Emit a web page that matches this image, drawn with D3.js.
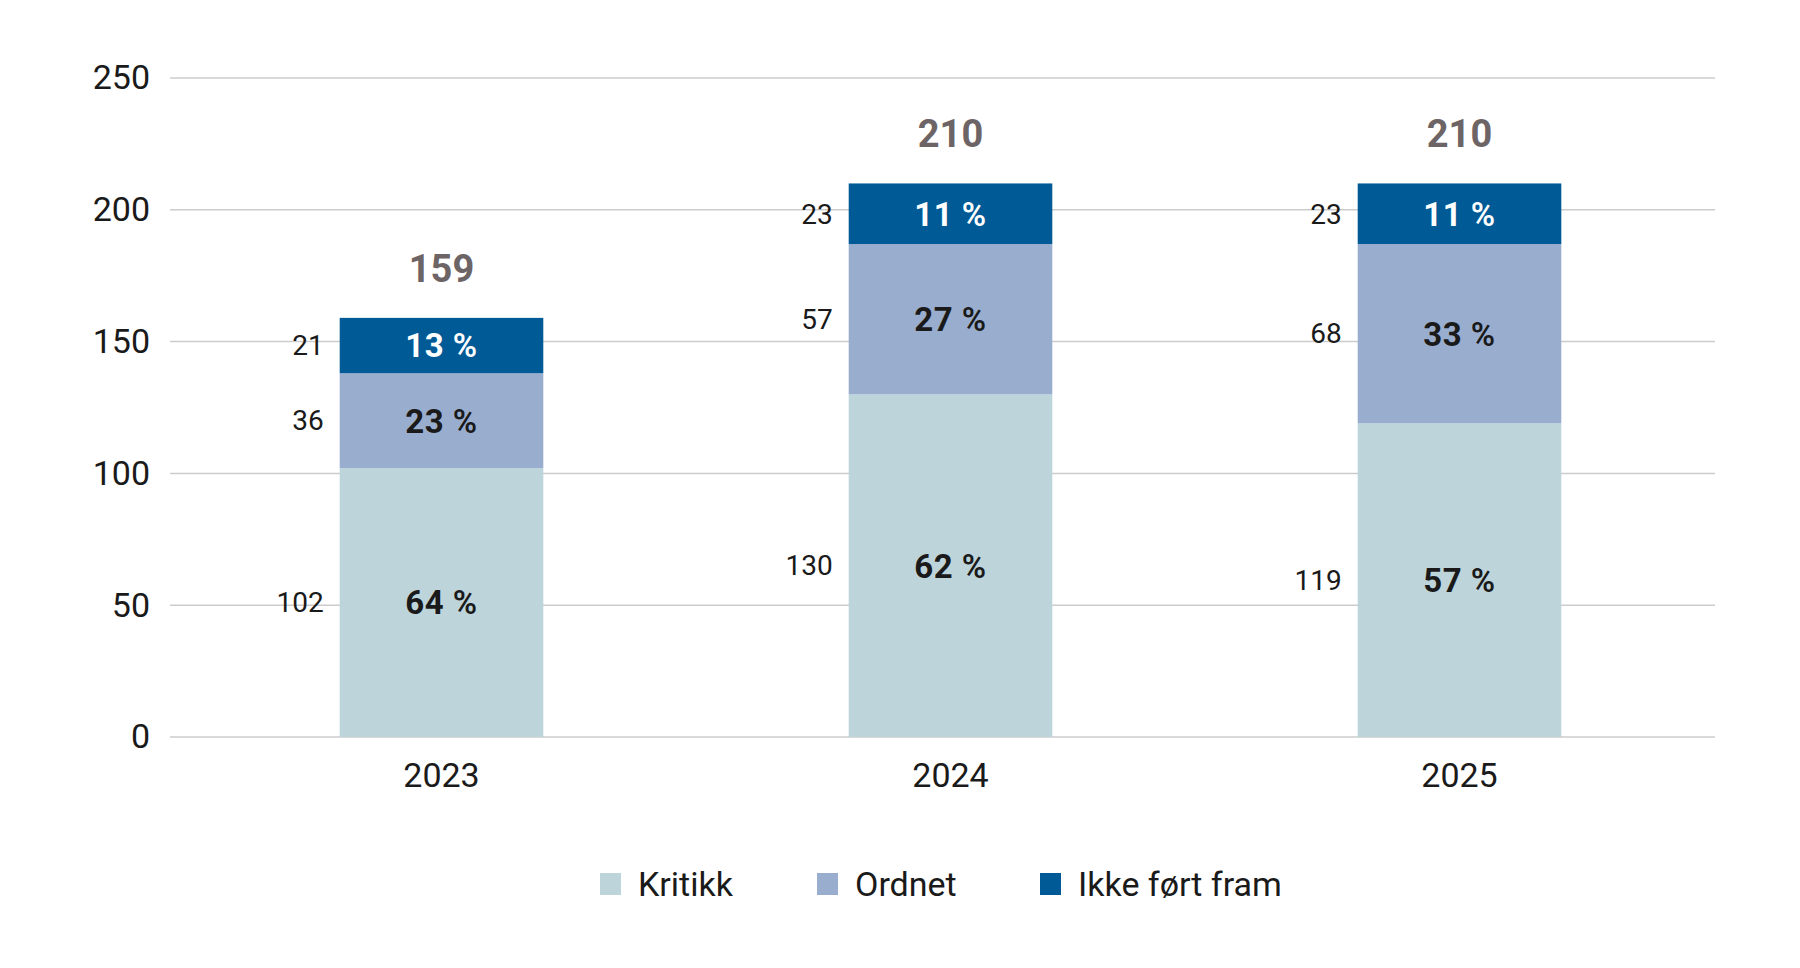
<!DOCTYPE html>
<html lang="no">
<head>
<meta charset="UTF-8">
<title>Saker etter utfall</title>
<script src="https://cdn.jsdelivr.net/npm/d3@7"></script>
<style>
  body { margin: 0; background: #fff; }
  text { font-family: Roboto, "Noto Sans", sans-serif; }
</style>
</head>
<body>
<script>
    var width = 1800;
    var height = 968;

    // data
    var years = ["2023", "2024", "2025"];
    var series = ["Kritikk", "Ordnet", "Ikke ført fram"];
    var kritikk = [102, 130, 119];
    var ordnet = [36, 57, 68];
    var ikkeFortFram = [21, 23, 23];
    var shares = [[64, 62, 57], [23, 27, 33], [13, 11, 11]];
    var yTicks = [0, 50, 100, 150, 200, 250];
    var colors = ["#bdd5da", "#99aecf", "#005a96"];

    var rows = years.map(function (y, i) {
        return {year: y, Kritikk: kritikk[i], Ordnet: ordnet[i], "Ikke ført fram": ikkeFortFram[i]};
    });
    var stacked = d3.stack().keys(series)(rows);

    var xScale = d3.scaleBand()
        .domain(years)
        .range([187, 1714])
        .paddingInner(0.6)
        .paddingOuter(0.3);

    var yScale = d3.scaleLinear()
        .domain([0, 250])
        .range([737, 78]);

    var svg = d3.select("body").append("svg")
        .attr("width", width)
        .attr("height", height);

    // grid
    svg.append("g").selectAll("line")
        .data(yTicks)
        .enter().append("line")
        .attr("x1", 170)
        .attr("x2", 1715)
        .attr("y1", function (d) { return yScale(d); })
        .attr("y2", function (d) { return yScale(d); })
        .attr("stroke", "#cccccc")
        .attr("stroke-width", 1.5);

    var yAxis = d3.axisLeft(yScale).tickValues(yTicks).tickSize(0).tickPadding(0);
    var yGroup = svg.append("g")
        .attr("transform", "translate(150,0)")
        .call(yAxis);
    yGroup.select(".domain").remove();
    yGroup.selectAll("text")
        .attr("font-size", 34)
        .attr("fill", "#1a1a1a")
        .attr("font-family", "Roboto");

    var xAxis = d3.axisBottom(xScale).tickSize(0).tickPadding(0);
    var xGroup = svg.append("g")
        .attr("transform", "translate(0,763)")
        .call(xAxis);
    xGroup.select(".domain").remove();
    xGroup.selectAll("text")
        .attr("font-size", 34)
        .attr("fill", "#1a1a1a")
        .attr("font-family", "Roboto");

    // bars
    var layers = svg.append("g").selectAll("g")
        .data(stacked)
        .enter().append("g")
        .attr("fill", function (d, i) { return colors[i]; });

    layers.selectAll("rect")
        .data(function (d) { return d; })
        .enter().append("rect")
        .attr("x", function (d) { return xScale(d.data.year); })
        .attr("width", xScale.bandwidth())
        .attr("y", function (d) { return yScale(d[1]); })
        .attr("height", function (d) { return yScale(d[0]) - yScale(d[1]); });

    // counts left of bars
    layers.selectAll("text.count")
        .data(function (d) { return d; })
        .enter().append("text")
        .attr("class", "count")
        .attr("x", function (d) { return xScale(d.data.year) - 16; })
        .attr("y", function (d) { return yScale((d[0] + d[1]) / 2); })
        .attr("dy", "0.35em")
        .attr("text-anchor", "end")
        .attr("font-size", 28)
        .attr("fill", "#1a1a1a")
        .text(function (d) { return d[1] - d[0]; });

    // shares inside bars
    layers.each(function (layer, li) {
        var t = d3.select(this).selectAll("text.share")
            .data(layer)
            .enter().append("text")
            .attr("class", "share")
            .attr("x", function (d) { return xScale(d.data.year) + xScale.bandwidth() / 2; })
            .attr("y", function (d) { return yScale((d[0] + d[1]) / 2); })
            .attr("dy", "0.36em")
            .attr("text-anchor", "middle")
            .attr("font-family", "'Open Sans', sans-serif")
            .attr("font-size", 33)
            .attr("letter-spacing", 0.5)
            .attr("fill", li === 2 ? "#ffffff" : "#1a1a1a");
        t.append("tspan")
            .attr("font-weight", 700)
            .text(function (d, i) { return shares[li][i] + " "; });
        t.append("tspan")
            .attr("font-weight", 600)
            .text("%");
    });

    // totals
    var topLayer = stacked[stacked.length - 1];
    svg.append("g").selectAll("text")
        .data(topLayer)
        .enter().append("text")
        .attr("x", function (d) { return xScale(d.data.year) + xScale.bandwidth() / 2; })
        .attr("y", function (d) { return yScale(d[1]) - 36; })
        .attr("text-anchor", "middle")
        .attr("font-weight", 700)
        .attr("font-size", 38)
        .attr("fill", "#6d6466")
        .text(function (d) { return d[1]; });

    // legend
    var legendX = [600, 817, 1040];
    var legend = svg.append("g").selectAll("g")
        .data(series)
        .enter().append("g")
        .attr("transform", function (d, i) { return "translate(" + legendX[i] + ",884)"; });
    legend.append("rect")
        .attr("x", 0)
        .attr("y", -11)
        .attr("width", 21)
        .attr("height", 22)
        .attr("fill", function (d, i) { return colors[i]; });
    legend.append("text")
        .attr("x", 38)
        .attr("y", 0)
        .attr("dy", "0.35em")
        .attr("font-size", 34)
        .attr("fill", "#1a1a1a")
        .text(function (d) { return d; });
</script>
</body>
</html>
